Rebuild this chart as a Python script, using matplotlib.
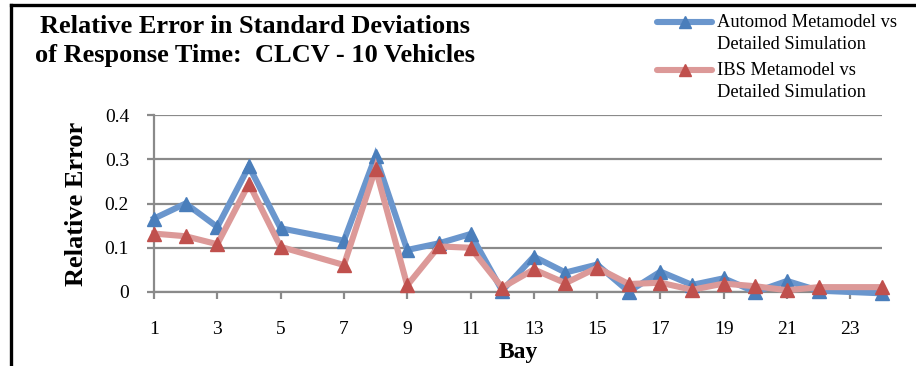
import matplotlib
matplotlib.use("Agg")
import matplotlib.pyplot as plt
from matplotlib.lines import Line2D

# Baias com dados (as baias 6 e 23 não têm medição)
bays : list = [1, 2, 3, 4, 5, 7, 8, 9, 10, 11, 12, 13, 14, 15, 16, 17, 18, 19, 20, 21, 22, 24]

automod_error : list = [0.166, 0.200, 0.147, 0.284, 0.144, 0.116, 0.307, 0.095, 0.110, 0.131, 0.003,
                        0.080, 0.044, 0.062, 0.001, 0.046, 0.016, 0.031, 0.000, 0.025, 0.003, -0.003]
ibs_error : list = [0.132, 0.126, 0.108, 0.245, 0.102, 0.061, 0.279, 0.015, 0.103, 0.100, 0.010,
                    0.051, 0.020, 0.055, 0.018, 0.021, 0.005, 0.019, 0.013, 0.004, 0.011, 0.011]

x_ticks : list = [1, 3, 5, 7, 9, 11, 13, 15, 17, 19, 21, 23]
y_ticks : list = [0, 0.1, 0.2, 0.3, 0.4]
y_tick_labels : list = ["0", "0.1", "0.2", "0.3", "0.4"]

series_names : list = ["Automod Metamodel vs\nDetailed Simulation", "IBS Metamodel vs\nDetailed Simulation"]

BLUE_LINE = "#6a96cd"
BLUE_MARK = "#4a7ebb"
RED_LINE = "#dc9998"
RED_MARK = "#c0504d"
GRID = "#8a8a8a"
SERIF = ["Liberation Serif", "DejaVu Serif"]


def plot_chart(filepath="out.png") -> None:
    """
    Gera o gráfico do erro relativo nos desvios padrão do tempo de resposta por baia
    """
    W, H = 916, 366
    fig = plt.figure(figsize=(W / 100, H / 100), dpi=100)
    ax = fig.add_axes([154 / W, 74 / H, (882 - 154) / W, (292 - 115) / H])

    ax.plot(bays, automod_error, color=BLUE_LINE, lw=4.4, marker="^", ms=10,
            mfc=BLUE_MARK, mec=BLUE_MARK, solid_joinstyle="miter", clip_on=False, zorder=3)
    ax.plot(bays, ibs_error, color=RED_LINE, lw=4.4, marker="^", ms=10,
            mfc=RED_MARK, mec=RED_MARK, solid_joinstyle="miter", clip_on=False, zorder=4)

    ax.set_xlim(1, 24)
    ax.set_ylim(0, 0.4)
    ax.set_xticks(x_ticks)
    ax.set_xticklabels([str(t) for t in x_ticks], fontsize=14, family=SERIF)
    ax.set_yticks(y_ticks)
    ax.set_yticklabels(y_tick_labels, fontsize=14, family=SERIF)

    ax.grid(axis="y", color=GRID, lw=1.6)
    ax.set_axisbelow(True)
    for side in ["top", "right"]:
        ax.spines[side].set_visible(False)
    for side in ["left", "bottom"]:
        ax.spines[side].set_color(GRID)
        ax.spines[side].set_linewidth(1.6)
    ax.tick_params(axis="x", direction="out", length=5, width=1.6, color=GRID, pad=16)
    ax.tick_params(axis="y", direction="out", length=5, width=1.6, color=GRID, pad=13)

    ax.set_xlabel("Bay", fontsize=17, fontweight="bold", family=SERIF, labelpad=3)
    ax.set_ylabel("Relative Error", fontsize=19, fontweight="bold", family=SERIF, labelpad=12)

    fig.text(255 / W, 1 - 41 / H, "Relative Error in Standard Deviations\nof Response Time:  CLCV - 10 Vehicles",
             ha="center", va="center", fontsize=19, fontweight="bold", family=SERIF, linespacing=1.38)

    # legenda feita à mão: o traço fica alinhado com a primeira linha do texto
    entries = [(22, BLUE_LINE, BLUE_MARK), (70, RED_LINE, RED_MARK)]
    for (y, line_color, mark_color), name in zip(entries, series_names):
        fy = 1 - y / H
        fig.add_artist(Line2D([657 / W, 712 / W], [fy, fy], transform=fig.transFigure,
                              color=line_color, lw=4.4, solid_capstyle="round"))
        fig.add_artist(Line2D([684.5 / W], [fy], transform=fig.transFigure, marker="^",
                              ms=9, color=mark_color, lw=0))
        fig.text(717 / W, fy + 8 / H, name, ha="left", va="top", fontsize=13.3, family=SERIF,
                 linespacing=1.4, transform=fig.transFigure)

    # moldura preta do gráfico (esquerda e topo)
    fig.add_artist(Line2D([11 / W, 11 / W], [0, 1 - 5 / H], transform=fig.transFigure, color="black", lw=2.4))
    fig.add_artist(Line2D([11 / W, 1], [1 - 5 / H, 1 - 5 / H], transform=fig.transFigure, color="black", lw=2.4))

    fig.savefig(filepath, dpi=100)


plot_chart()
